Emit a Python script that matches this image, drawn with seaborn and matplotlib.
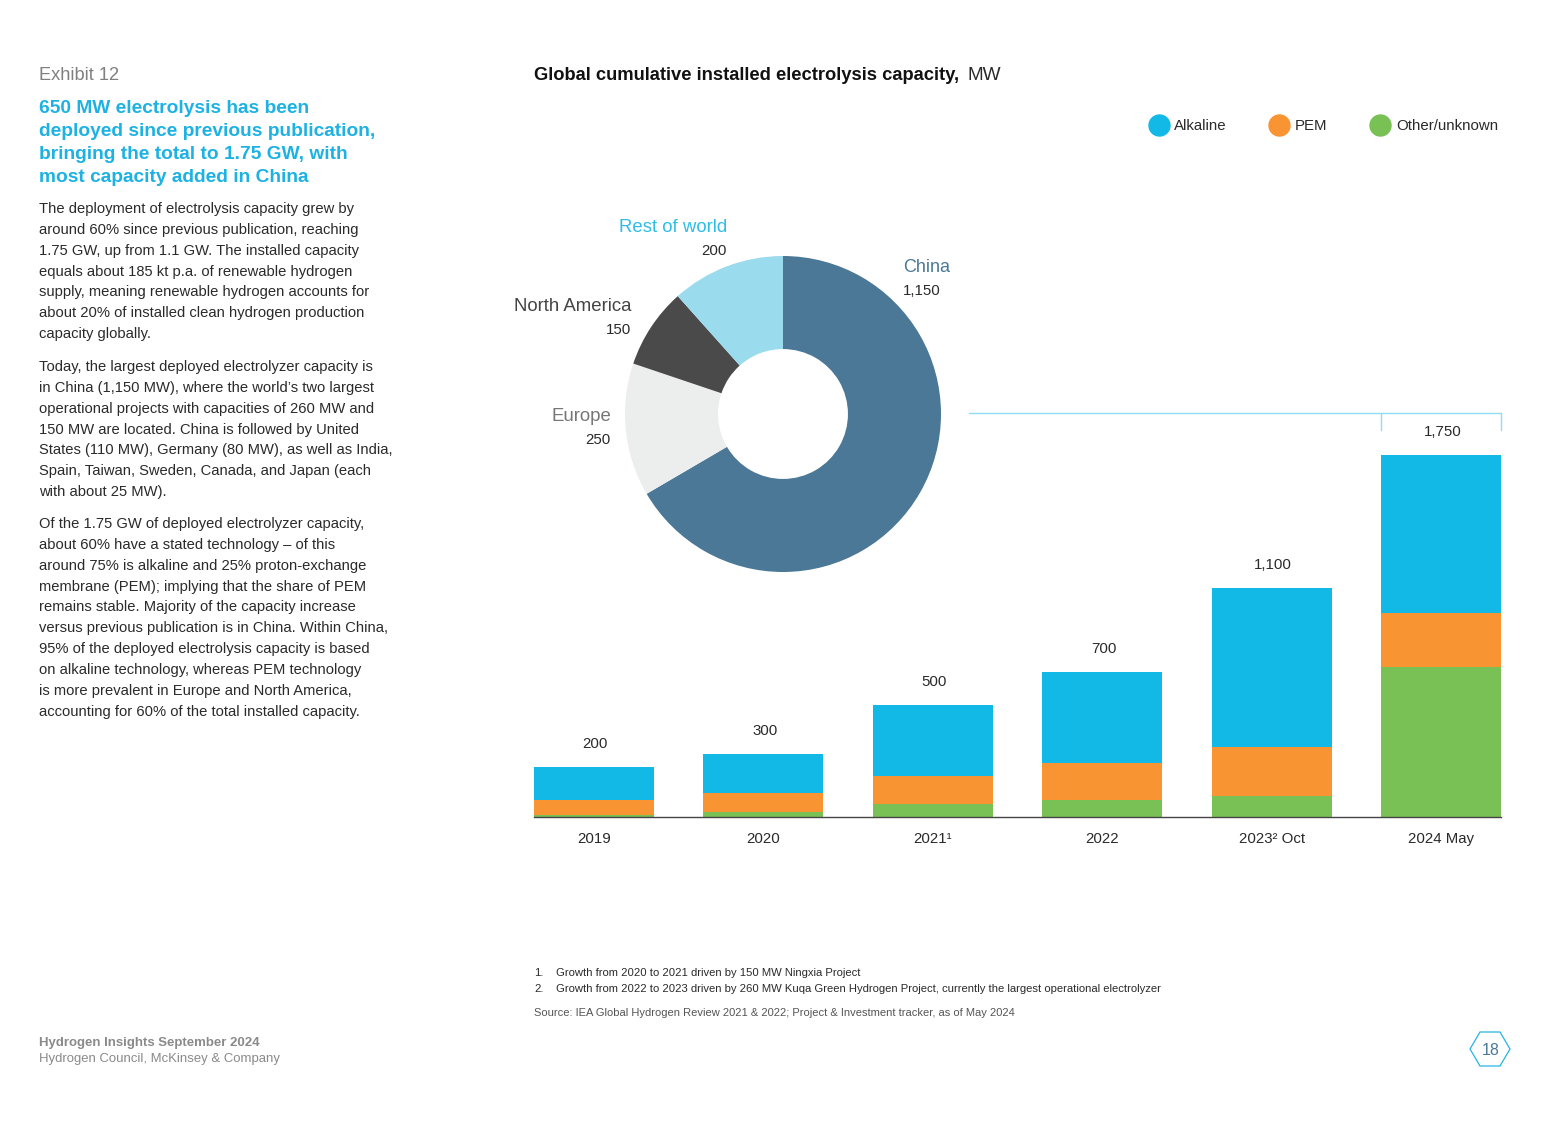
import matplotlib
matplotlib.use('Agg')
import matplotlib.pyplot as plt
from matplotlib.lines import Line2D
from matplotlib.patches import Polygon
import pandas as pd
import seaborn as sns

# Chart data
years = ['2019', '2020', '2021¹', '2022', '2023² Oct', '2024 May']
total_labels = ['200', '300', '500', '700', '1,100', '1,750']
other = [10, 24, 63, 82, 102, 725]
pem = [73, 92, 135, 179, 237, 261]
alkaline = [160, 189, 343, 440, 769, 764]

regions = ['China', 'Europe', 'North America', 'Rest of world']
region_labels = ['1,150', '250', '150', '200']
# slice sizes as drawn in the picture, slightly off the printed labels
region_mw = [1165, 238, 144, 203]

heading = ['650 MW electrolysis has been',
           'deployed since previous publication,',
           'bringing the total to 1.75 GW, with',
           'most capacity added in China']
para1 = ['The deployment of electrolysis capacity grew by',
         'around 60% since previous publication, reaching',
         '1.75 GW, up from 1.1 GW. The installed capacity',
         'equals about 185 kt p.a. of renewable hydrogen',
         'supply, meaning renewable hydrogen accounts for',
         'about 20% of installed clean hydrogen production',
         'capacity globally.']
para2 = ['Today, the largest deployed electrolyzer capacity is',
         'in China (1,150 MW), where the world’s two largest',
         'operational projects with capacities of 260 MW and',
         '150 MW are located. China is followed by United',
         'States (110 MW), Germany (80 MW), as well as India,',
         'Spain, Taiwan, Sweden, Canada, and Japan (each',
         'with about 25 MW).']
para3 = ['Of the 1.75 GW of deployed electrolyzer capacity,',
         'about 60% have a stated technology – of this',
         'around 75% is alkaline and 25% proton-exchange',
         'membrane (PEM); implying that the share of PEM',
         'remains stable. Majority of the capacity increase',
         'versus previous publication is in China. Within China,',
         '95% of the deployed electrolysis capacity is based',
         'on alkaline technology, whereas PEM technology',
         'is more prevalent in Europe and North America,',
         'accounting for 60% of the total installed capacity.']

BLUE = '#12B9E6'
ORANGE = '#F99432'
GREEN = '#7AC155'
HEAD = '#1DB2E3'
W, H = 1554, 1123

sns.set_theme(style='white')
plt.rcParams['font.family'] = ['Liberation Sans', 'DejaVu Sans']

fig = plt.figure(figsize=(W / 100, H / 100), dpi=100, facecolor='white')


def px_axes(left, top, right, bottom):
    return fig.add_axes([left / W, 1 - bottom / H, (right - left) / W, (bottom - top) / H])


def put(x, y, s, size, color='#2A2A2A', weight='normal', ha='left'):
    # x, y are picture pixels, y is the text baseline
    fig.text(x / W, 1 - y / H, s, fontsize=size * 0.72, color=color, weight=weight,
             ha=ha, va='baseline')


# Stacked bars
df = pd.DataFrame({'year': years, 'other': other, 'pem': pem, 'alkaline': alkaline})
df['pem_base'] = df['other']
df['alk_base'] = df['other'] + df['pem']
df['total'] = df['alk_base'] + df['alkaline']

ax = px_axes(534, 417, 1501, 817)
sns.barplot(data=df, x='year', y='other', color=GREEN, saturation=1, width=0.708, linewidth=0, ax=ax)
sns.barplot(data=df, x='year', y='pem', bottom=df['pem_base'], color=ORANGE, saturation=1,
            width=0.708, linewidth=0, ax=ax)
sns.barplot(data=df, x='year', y='alkaline', bottom=df['alk_base'], color=BLUE, saturation=1,
            width=0.708, linewidth=0, ax=ax)
ax.set_xlim(-0.354, 5.354)
ax.set_ylim(0, 400 * 1750 / 362)
ax.set_xlabel('')
ax.set_ylabel('')
ax.set_yticks([])
ax.tick_params(axis='x', length=0, pad=11, labelsize=15 * 0.72, labelcolor='#2A2A2A')
sns.despine(ax=ax, left=True)
ax.spines['bottom'].set_color('#444444')
ax.spines['bottom'].set_linewidth(1)
ax.patch.set_alpha(0)

for i, label in enumerate(total_labels):
    ax.annotate(label, (i, df['total'][i]), xytext=(1, 13.7), textcoords='offset points',
                ha='center', va='baseline', fontsize=15 * 0.72, color='#2A2A2A')

# Donut
pie_ax = px_axes(783 - 165, 414 - 165, 783 + 165, 414 + 165)
pie_ax.pie(region_mw, colors=['#4B7896', '#ECEEED', '#4A4A4A', '#9BDBEE'], startangle=90,
           counterclock=False, radius=1, wedgeprops={'width': 0.589, 'linewidth': 0})
pie_ax.set_xlim(-165 / 158, 165 / 158)
pie_ax.set_ylim(-165 / 158, 165 / 158)

# Bracket from donut to last bar
for xs, ys in [((969, 1501), (413, 413)), ((1381, 1381), (413, 430)), ((1501, 1501), (413, 430))]:
    fig.add_artist(Line2D([x / W for x in xs], [1 - y / H for y in ys], color='#8FDDF2', lw=1))

# Donut labels
put(727, 232, regions[3], 18.6, color='#2FBDE8', ha='right')
put(727, 255, region_labels[3], 15, ha='right')
put(903, 272, regions[0], 18, color='#4B7896')
put(903, 295, region_labels[0], 15)
put(631, 311, regions[2], 18.6, color='#444444', ha='right')
put(631, 334, region_labels[2], 15, ha='right')
put(611, 421, regions[1], 18.6, color='#777777', ha='right')
put(611, 444, region_labels[1], 15, ha='right')

# Legend
handles = [Line2D([], [], ls='', marker='o', ms=21 * 0.72, mfc=c, mec=c)
           for c in (BLUE, ORANGE, GREEN)]
fig.legend(handles, ['Alkaline', 'PEM', 'Other/unknown'], ncol=3, frameon=False,
           loc='center right', bbox_to_anchor=(1498 / W, 1 - 126 / H), fontsize=15 * 0.72,
           borderpad=0, borderaxespad=0, handlelength=1.0, handletextpad=0.55, columnspacing=3.0,
           labelcolor='#2A2A2A')

# Left column
put(39, 80, 'Exhibit 12', 18.3, color='#808080')
for i, line in enumerate(heading):
    put(39, 113 + i * 23, line, 19.1, color=HEAD, weight='bold')
for start, block in [(213, para1), (371, para2), (528, para3)]:
    for i, line in enumerate(block):
        put(39, start + i * 20.85, line, 14.7)

# Title
put(534, 80, 'Global cumulative installed electrolysis capacity,', 18.4, color='#111111', weight='bold')
put(967, 80, 'MW', 19, color='#2A2A2A')

# Notes
put(534, 976, '1.', 11.2)
put(556, 976, 'Growth from 2020 to 2021 driven by 150 MW Ningxia Project', 11.25)
put(534, 992, '2.', 11.2)
put(556, 992, 'Growth from 2022 to 2023 driven by 260 MW Kuqa Green Hydrogen Project, currently the largest operational electrolyzer', 11.25)
put(534, 1016, 'Source: IEA Global Hydrogen Review 2021 & 2022; Project & Investment tracker, as of May 2024', 11.14, color='#555555')

# Footer
put(39, 1046, 'Hydrogen Insights September 2024', 13.3, color='#8A8A8A', weight='bold')
put(39, 1062, 'Hydrogen Council, McKinsey & Company', 13.1, color='#8A8A8A')

hex_pts = [(1470, 1049), (1480, 1032), (1500, 1032), (1510, 1049), (1500, 1066), (1480, 1066)]
fig.add_artist(Polygon([(x / W, 1 - y / H) for x, y in hex_pts], closed=True, fill=False,
                       edgecolor='#25B4E4', lw=0.9, transform=fig.transFigure))
put(1490.5, 1055, '18', 16, color='#4B7896', ha='center')

fig.savefig('out.png', dpi=100, facecolor='white')
